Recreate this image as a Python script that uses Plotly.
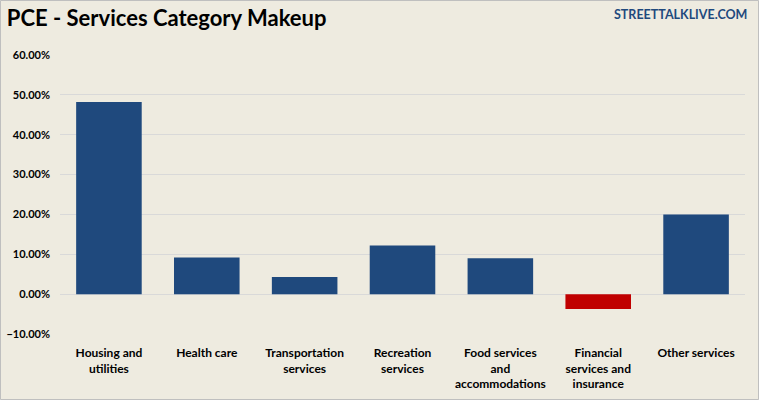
import plotly.graph_objects as go

categories = ["Housing and<br>utilities", "Health care", "Transportation<br>services",
              "Recreation<br>services", "Food services<br>and<br>accommodations",
              "Financial<br>services and<br>insurance", "Other services"]
values = [0.482, 0.092, 0.043, 0.122, 0.090, -0.037, 0.200]
tick_vals = [-0.1, 0.0, 0.1, 0.2, 0.3, 0.4, 0.5, 0.6]

BLUE = "#1F497D"
RED = "#C00000"
BG = "#EEEBE0"
colors = [RED if v < 0 else BLUE for v in values]

W, H = 759, 400
ml, mr, mt, mb = 60, 14, 55, 66

fig = go.Figure()
fig.add_trace(go.Bar(x=categories, y=values, marker_color=colors, width=0.67,
                     marker_line_width=0, hoverinfo="x+y"))

pw = W - ml - mr
ph = H - mt - mb
fig.add_shape(type="rect", xref="paper", yref="paper",
              x0=-ml / pw + 0.5 / pw, x1=1 + (mr - 0.5) / pw,
              y0=-mb / ph + 0.5 / ph, y1=1 + (mt - 0.5) / ph,
              line=dict(color="#BFBFBF", width=1), layer="below")

fig.update_layout(
    width=W, height=H,
    margin=dict(l=ml, r=mr, t=mt, b=mb, autoexpand=False),
    paper_bgcolor=BG, plot_bgcolor=BG,
    showlegend=False,
    font=dict(family="Lato", color="#000000"),
    title=dict(text="<b>PCE - Services Category Makeup</b>", x=0.009, xanchor="left",
               y=0.955, yanchor="middle", font=dict(size=22, family="Lato", color="#000")),
    annotations=[dict(text="<b>STREETTALKLIVE.COM</b>", xref="paper", yref="paper",
                      x=1 + (mr - 10) / pw, y=1 + (mt - 15) / ph, xanchor="right", yanchor="middle",
                      showarrow=False, font=dict(size=12.5, color=BLUE, family="Lato"))],
    xaxis=dict(tickfont=dict(size=12, family="Lato", color="#000", weight="bold"), showgrid=False,
               showline=False, ticks="", tickangle=0, fixedrange=True, automargin=False,
               ticklabelstandoff=10),
    yaxis=dict(range=[-0.1, 0.6], tickvals=tick_vals, tickformat=".2%",
               tickfont=dict(size=11, family="Lato", color="#000", weight="bold"),
               showgrid=True, gridcolor="#D9D9D9", gridwidth=1,
               zeroline=True, zerolinecolor="#D9D9D9", zerolinewidth=1,
               showline=False, ticks="", ticklabelstandoff=9, automargin=False),
)

fig.write_html("out.html", config={"displayModeBar": False},
               post_script="document.body.style.margin='0';document.body.style.overflow='hidden';")
